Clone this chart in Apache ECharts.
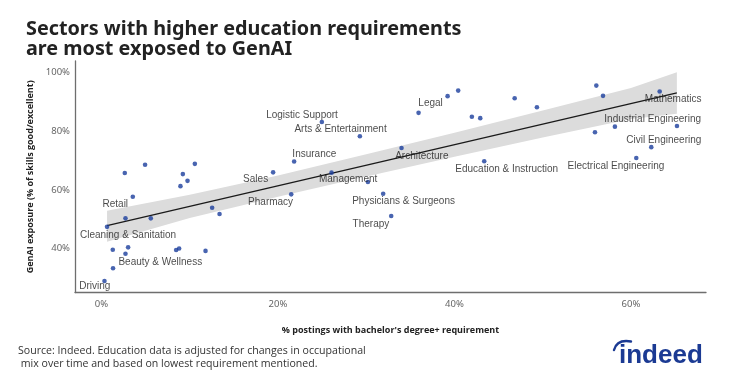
<!DOCTYPE html>
<html>
<head>
<meta charset="utf-8">
<script src="https://cdn.jsdelivr.net/npm/echarts@6/dist/echarts.min.js"></script>
<style>html,body{margin:0;padding:0;background:#fff;}#c{width:733px;height:379px;}</style>
</head>
<body>
<div id="c"></div>
<script>
// ---- data ----
const xVals = [0.34, 1.31, 1.28, 2.72, 3.02, 8.46, 8.80, 11.79, 0.63, 2.72, 5.59, 3.55, 12.54, 13.38,
  2.64, 4.94, 10.58, 9.22, 9.75, 8.95, 19.45, 21.5, 21.83, 24.97, 29.28, 26.07, 30.19, 31.92, 32.83,
  34.0, 35.93, 39.22, 40.42, 41.97, 42.92, 43.37, 46.82, 49.34, 56.07, 56.83, 55.92, 58.18, 60.6, 62.3, 63.25, 65.21];
const yVals = [28.9, 33.3, 39.6, 38.2, 40.4, 39.5, 40.0, 39.2, 47.4, 50.3, 50.3, 57.7, 53.9, 51.8,
  65.8, 68.6, 68.9, 65.4, 63.1, 61.3, 66.0, 58.5, 69.7, 83.2, 78.3, 65.9, 62.7, 58.7, 51.1,
  74.3, 86.3, 92.0, 93.9, 85.0, 84.5, 69.8, 91.3, 88.2, 95.6, 92.1, 79.7, 81.6, 70.9, 74.6, 93.6, 81.8];
const pointNames = ['Driving', '', '', 'Beauty & Wellness', '', '', '', '', 'Cleaning & Sanitation', '', '', 'Retail', '', '',
  '', '', '', '', '', '', 'Sales', 'Pharmacy', 'Insurance', 'Logistic Support', 'Arts & Entertainment', 'Management', '', 'Physicians & Surgeons', 'Therapy',
  'Architecture', 'Legal', '', '', '', '', 'Education & Instruction', '', '', '', '', '', '', 'Electrical Engineering', 'Civil Engineering', 'Mathematics', 'Industrial Engineering'];
const fitX = [0.63, 65.2];
const fitY = [47.8, 93.1];
const bandX = [0.63, 10, 20, 30, 40, 50, 60, 65.2];
const bandLow = [42.3, 50.4, 57.7, 64.6, 71.3, 77.9, 84.2, 86.0];
const bandHigh = [52.9, 58.4, 64.9, 72.2, 79.5, 87.1, 94.8, 100.2];
const xTicks = [0, 20, 40, 60];
const yTicks = [40, 60, 80, 100];

// ---- styles (label placement in px, relative to dot centre) ----
const labelOffset = {
  'Driving': [-9.7, 4.7], 'Beauty & Wellness': [34.8, 8], 'Cleaning & Sanitation': [21, 8], 'Retail': [-17.5, 7.3],
  'Sales': [-17.5, 6.5], 'Pharmacy': [-20.6, 8], 'Insurance': [20.2, -7], 'Logistic Support': [-19.8, -7],
  'Arts & Entertainment': [-19.3, -6.6], 'Management': [16.6, 6.6], 'Physicians & Surgeons': [20.4, 7.6],
  'Therapy': [-20.3, 8], 'Architecture': [20.3, 8], 'Legal': [12, -9.7], 'Education & Instruction': [22.5, 8.4],
  'Electrical Engineering': [-20.3, 8], 'Civil Engineering': [12.5, -7.3], 'Mathematics': [13.5, 7.6],
  'Industrial Engineering': [-24.3, -6.6]
};
const dotSize = 4.6;

const scatterData = xVals.map((x, i) => {
  const n = pointNames[i];
  const d = { value: [x, yVals[i]], name: n };
  if (n) {
    const o = labelOffset[n];
    d.label = { show: true, formatter: n, position: [dotSize / 2 + o[0], dotSize / 2 + o[1]],
      align: 'center', verticalAlign: 'middle',
      color: '#1a1a1a', fontSize: 10, fontFamily: 'Liberation Sans' };
  }
  return d;
});

const chart = echarts.init(document.getElementById('c'), null, { renderer: 'canvas' });
const axisLineStyle = { color: '#6e6e6e', width: 1.3 };
chart.setOption({
  animation: false,
  backgroundColor: '#ffffff',
  title: {
    text: 'Sectors with higher education requirements\nare most exposed to GenAI',
    left: 21, top: 14,
    textStyle: { fontFamily: 'Noto Sans', fontWeight: 'bold', fontSize: 19.8, lineHeight: 20, color: '#222222' }
  },
  grid: { left: 75, right: 27, top: 61, bottom: 86.5, containLabel: false },
  xAxis: {
    type: 'value', min: -3, max: 68.5, interval: 1,
    axisLine: { show: true, onZero: false, lineStyle: axisLineStyle },
    axisTick: { show: false }, splitLine: { show: false },
    axisLabel: { color: '#666666', fontSize: 9.5, fontFamily: 'Noto Sans', margin: 7,
      showMinLabel: false, showMaxLabel: false,
      formatter: v => xTicks.indexOf(Math.round(v * 1000) / 1000) >= 0 ? v + '%' : '' },
    name: "% postings with bachelor's degree+ requirement",
    nameLocation: 'middle', nameGap: 33,
    nameTextStyle: { fontFamily: 'Open Sans', fontWeight: 'bold', fontSize: 9, color: '#222222' }
  },
  yAxis: {
    type: 'value', min: 25, max: 104, interval: 1,
    axisLine: { show: true, onZero: false, lineStyle: axisLineStyle },
    axisTick: { show: false }, splitLine: { show: false },
    axisLabel: { color: '#666666', fontSize: 9.5, fontFamily: 'Noto Sans', margin: 5,
      showMinLabel: false, showMaxLabel: false,
      formatter: v => yTicks.indexOf(Math.round(v * 1000) / 1000) >= 0 ? v + '%' : '' },
    name: 'GenAI exposure (% of skills good/excellent)',
    nameLocation: 'middle', nameGap: 18,
    nameTextStyle: { fontFamily: 'Open Sans', fontWeight: 'bold', fontSize: 9, color: '#222222' }
  },
  series: [
    {
      type: 'custom', z: 1, silent: true,
      data: [0],
      renderItem: (params, api) => {
        const pts = [];
        for (let i = 0; i < bandX.length; i++) pts.push(api.coord([bandX[i], bandHigh[i]]));
        for (let i = bandX.length - 1; i >= 0; i--) pts.push(api.coord([bandX[i], bandLow[i]]));
        return { type: 'polygon', shape: { points: pts }, style: { fill: '#dcdcdc' } };
      }
    },
    {
      type: 'line', z: 2, silent: true, symbol: 'none',
      data: fitX.map((x, i) => [x, fitY[i]]),
      lineStyle: { color: '#1a1a1a', width: 1.3 }
    },
    {
      type: 'scatter', z: 3, symbolSize: dotSize,
      itemStyle: { color: '#1a3d9c' },
      data: scatterData,
      labelLayout: { hideOverlap: false }
    }
  ],
  graphic: [
    {
      type: 'text', left: 18, top: 345,
      style: {
        text: 'Source: Indeed. Education data is adjusted for changes in occupational\n mix over time and based on lowest requirement mentioned.',
        fontFamily: 'Open Sans', fontSize: 10.6, lineHeight: 12.7, fill: '#333333'
      }
    },
    {
      type: 'text', x: 619, y: 369,
      style: { text: 'indeed', fontFamily: 'Liberation Sans', fontWeight: 'bold', fontSize: 26,
        fill: '#1b3a93', verticalAlign: 'bottom', align: 'left' }
    },
    {
      type: 'bezierCurve',
      shape: { x1: 614, y1: 350, x2: 631, y2: 341.5, cpx1: 617, cpy1: 339 },
      style: { stroke: '#1b3a93', lineWidth: 2.4, fill: null, lineCap: 'round' }
    }
  ]
});
</script>
</body>
</html>
